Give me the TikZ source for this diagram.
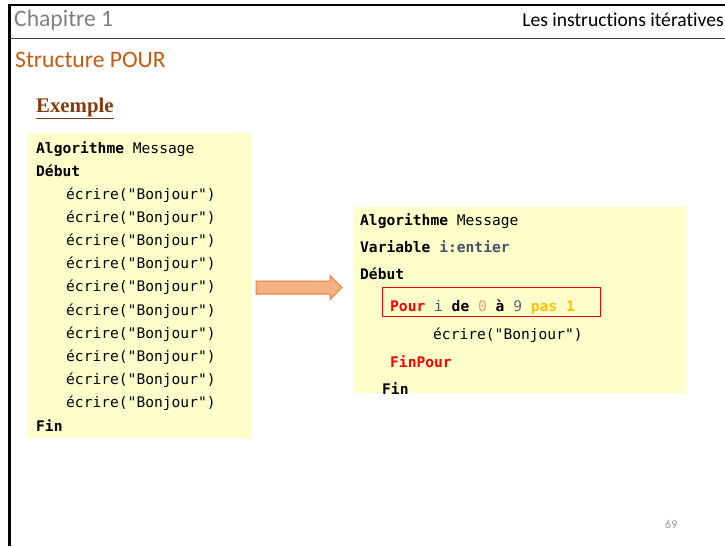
\documentclass[tikz,border=0pt]{standalone}
\usepackage{fontspec}
\setmainfont[Ligatures=NoCommon]{Carlito}
\newfontfamily\codefont{DejaVu Sans Mono}
\newfontfamily\titlefont{Liberation Serif}

\definecolor{pagegray}{HTML}{7F7F7F}
\definecolor{titleorange}{HTML}{C55A11}
\definecolor{exbrown}{HTML}{843C0C}
\definecolor{codebg}{HTML}{FFFFCC}
\definecolor{kwred}{HTML}{FF0000}
\definecolor{varslate}{HTML}{44546A}
\definecolor{numorange}{HTML}{F4A06A}
\definecolor{numgray}{HTML}{666666}
\definecolor{stepgold}{HTML}{FFC000}
\definecolor{arrowfill}{HTML}{F4B183}
\definecolor{arrowline}{HTML}{ED7D31}

\tikzset{
  codeline/.style={anchor=base west, inner sep=0pt, font=\codefont\fontsize{14.6}{16}\selectfont},
  codebox/.style={fill=codebg, draw=none},
  blockarrow/.style={draw=arrowline, fill=arrowfill, line width=1pt, line join=miter},
}
\newcommand{\kwb}[1]{\textbf{#1}}

\begin{document}
\begin{tikzpicture}[x=1pt,y=-1pt]
  \useasboundingbox (0,0) rectangle (725,546);

  % page frame and header rule
  \draw[line width=3pt] (9.5,4) -- (9.5,546);
  \draw[line width=2pt] (8,5) -- (725,5);
  \draw[line width=1pt, black!75] (10,38.5) -- (725,38.5);

  % header texts
  \node[anchor=base west, inner sep=0pt, text=pagegray, font=\fontsize{23.6}{26}\selectfont] (chap) at (14,26) {Chapitre 1};
  \node[anchor=base east, inner sep=0pt, font=\fontsize{19.6}{22}\selectfont] (topic) at (724,26) {Les instructions itératives};
  \node[anchor=base west, inner sep=0pt, text=titleorange, font=\fontsize{23.6}{26}\selectfont] (section) at (15,67) {Structure POUR};
  \node[anchor=base west, inner sep=0pt, text=exbrown, font=\titlefont\bfseries\fontsize{20.8}{24}\selectfont] (example) at (36,112) {\underline{Exemple}};

  % left code box: ten repeated writes
  \path[codebox] (27,133) rectangle (251,438);
  \node[codeline] (l1) at (36,153) {\kwb{Algorithme} Message};
  \node[codeline] (l2) at (36,176) {\kwb{Début}};
  \foreach \k in {0,...,9} {
    \node[codeline] (w\k) at (66,199+23.2*\k) {écrire("Bonjour")};
  }
  \node[codeline] (l3) at (36,431) {\kwb{Fin}};

  % block arrow between the two boxes
  \draw[blockarrow] (256,281) -- (330,281) -- (330,275.5) -- (342,287.5)
        -- (330,299.5) -- (330,294) -- (256,294) -- cycle;

  % right code box: the same program with a loop
  \path[codebox] (353,207) rectangle (687,393);
  \node[codeline] (r1) at (360,225) {\kwb{Algorithme} Message};
  \node[codeline] (r2) at (360,252) {\kwb{Variable} \textcolor{varslate}{\kwb{i:entier}}};
  \node[codeline] (r3) at (360,279) {\kwb{Début}};
  \draw[kwred, line width=0.8pt] (382.5,287.5) rectangle (600,316);
  \node[codeline] (r4) at (390,311) {\textcolor{kwred}{\kwb{Pour}} \textcolor{varslate}{i} \kwb{de} \textcolor{numorange}{0} \kwb{à} \textcolor{numgray}{9} \textcolor{stepgold}{\kwb{pas 1}}};
  \node[codeline] (r5) at (433,339) {écrire("Bonjour")};
  \node[codeline] (r6) at (390,367) {\textcolor{kwred}{\kwb{FinPour}}};
  \node[codeline] (r7) at (382,394) {\kwb{Fin}};

  % page number
  \node[anchor=base west, inner sep=0pt, text=pagegray!80, font=\fontsize{12}{14}\selectfont] (pnum) at (665,528) {69};
\end{tikzpicture}
\end{document}
